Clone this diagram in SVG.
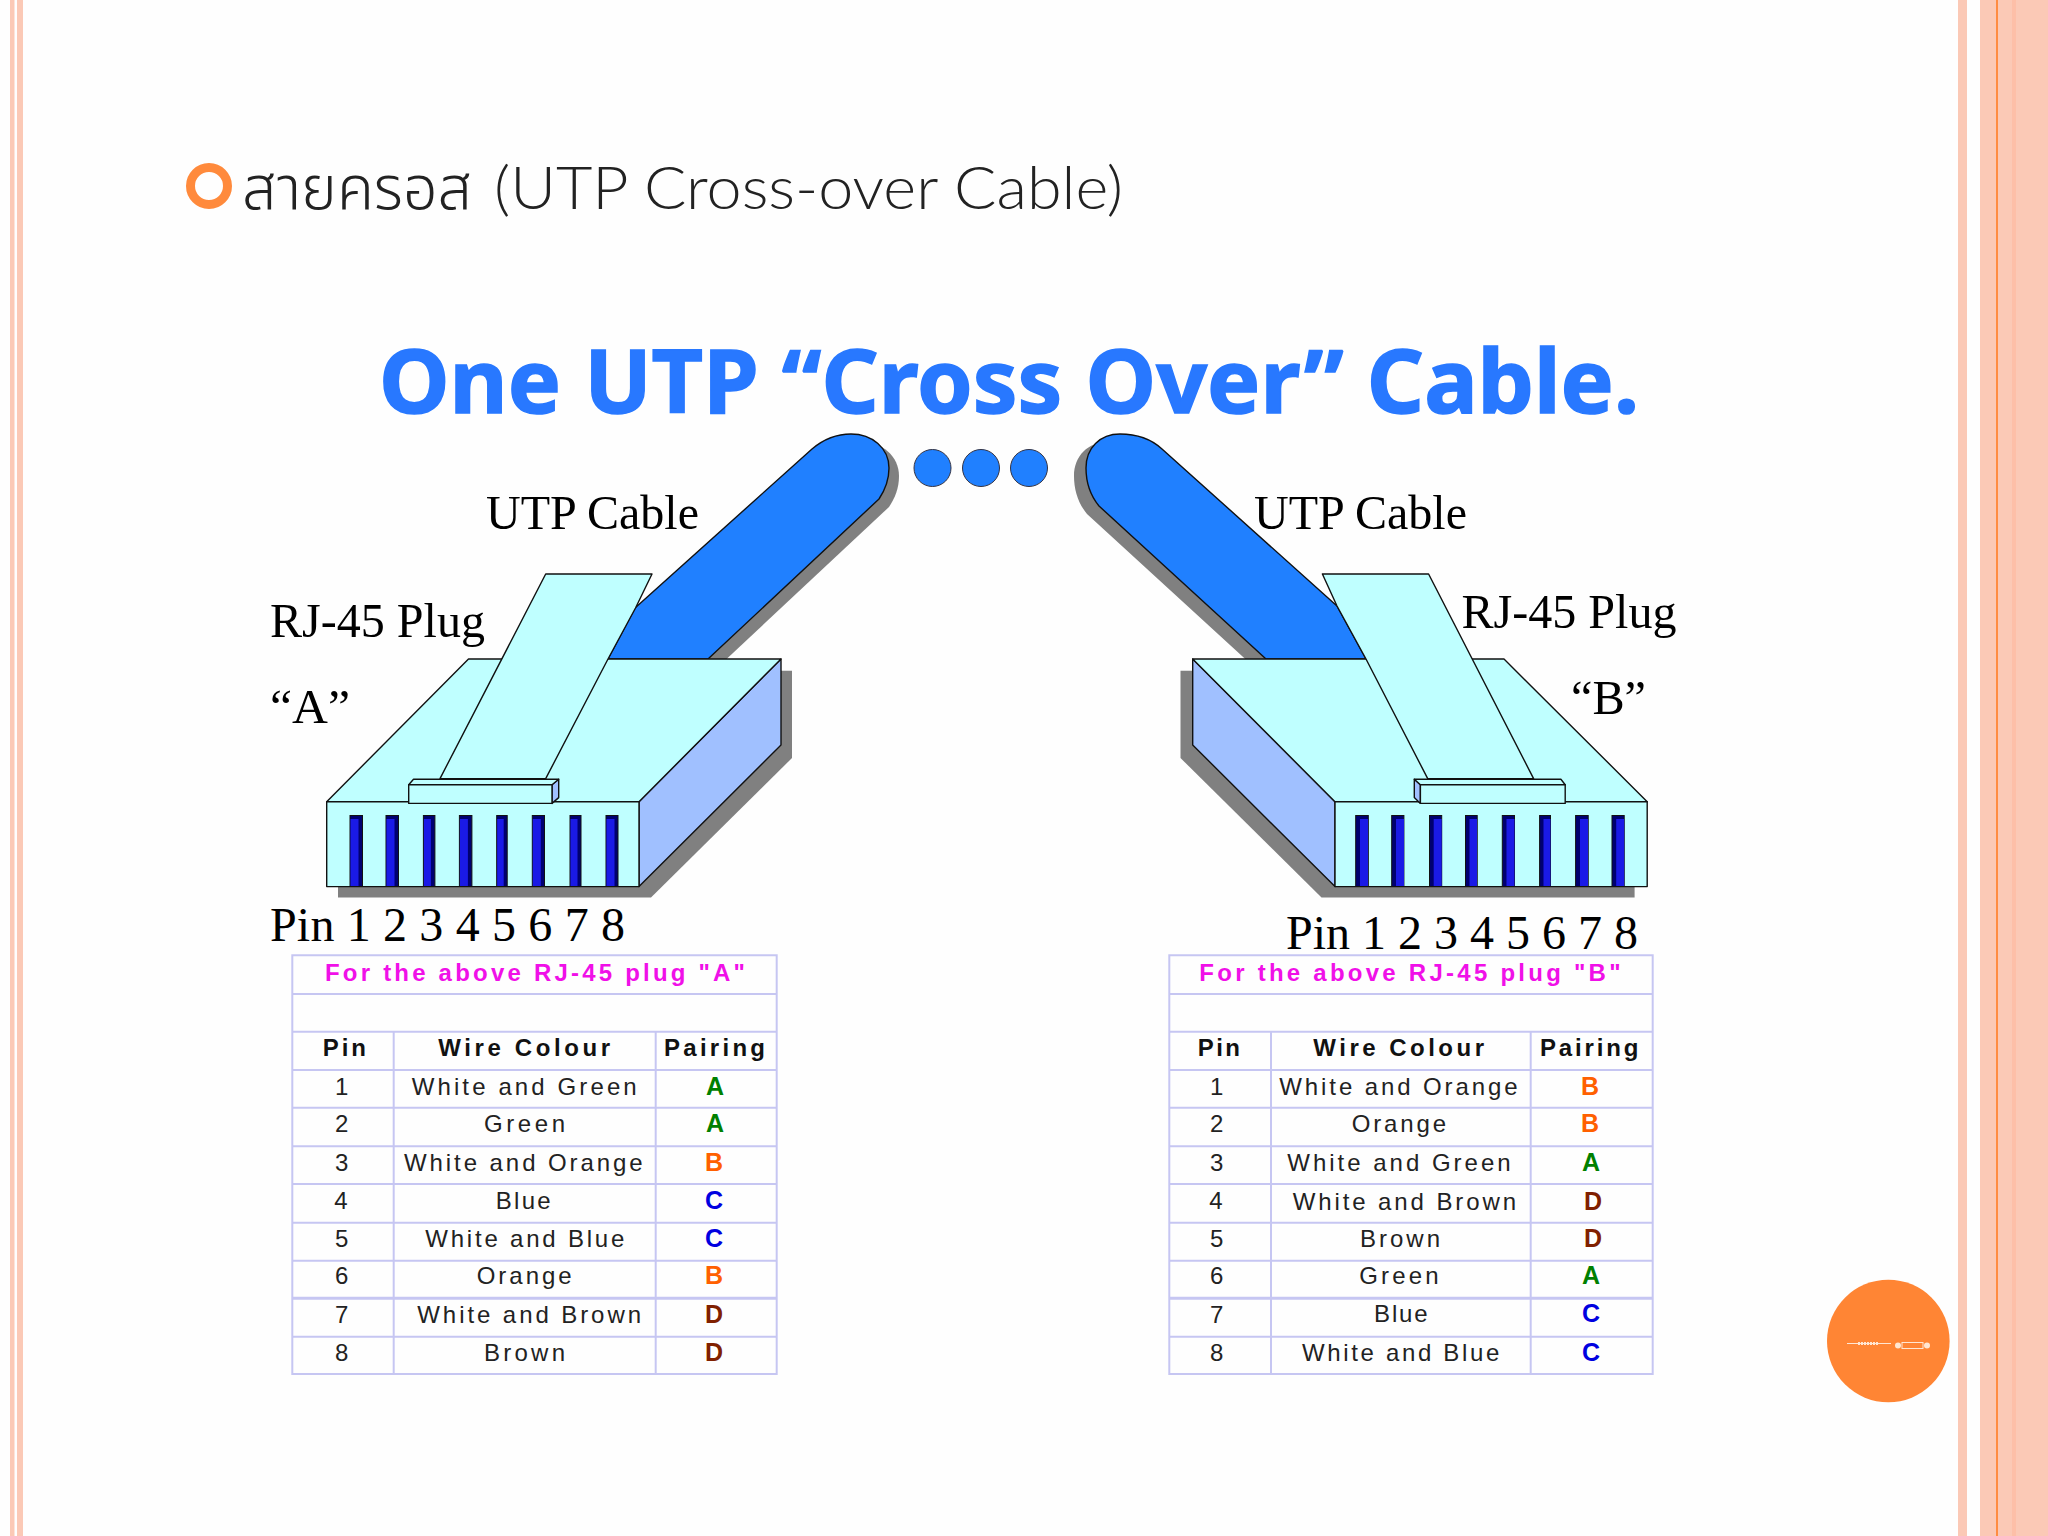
<svg xmlns="http://www.w3.org/2000/svg" width="2048" height="1536" viewBox="0 0 2048 1536">
<style>
.l{stroke:#111;stroke-width:1.4;stroke-linejoin:round}
.face{fill:#bfffff}.side{fill:#a0c0ff}.cable{fill:#2080ff}.shadow{fill:#808080}
.pd{fill:#000070;stroke:#111;stroke-width:1}.pf{fill:#1a1ae6}
.ser{font-family:"Liberation Serif","Times New Roman",serif;font-size:48px;fill:#000}
.grid{stroke:#c6c6f2;stroke-width:2;fill:none}
.t{font-family:"Liberation Sans",Arial,sans-serif;font-size:24px;fill:#222}
.d{text-anchor:middle}
.h{font-family:"Liberation Sans",Arial,sans-serif;font-size:24px;font-weight:bold;fill:#111}
.m{font-family:"Liberation Sans",Arial,sans-serif;font-size:24px;font-weight:bold;fill:#f010e8}
.p{font-family:"Liberation Sans",Arial,sans-serif;font-size:25px;font-weight:bold;text-anchor:middle}
.A{fill:#008000}.B{fill:#ff6000}.C{fill:#0000e0}.D{fill:#802000}
.bar{fill:#fbc9b6}
</style>
<rect width="2048" height="1536" fill="#fefefe"/>
<g id="frame">
<rect class="bar" x="10" y="0" width="4.5" height="1536"/>
<rect class="bar" x="17" y="0" width="6" height="1536"/>
<rect class="bar" x="1958" y="0" width="9" height="1536"/>
<rect class="bar" x="1980" y="0" width="68" height="1536"/>
<rect x="1996" y="0" width="2" height="1536" fill="#ff8c42"/>
<rect x="2012" y="0" width="4" height="1536" fill="#fdbfa8"/>
</g>
<g id="heading">
<circle cx="209" cy="186" r="18.5" fill="none" stroke="#ff8a3c" stroke-width="9"/>
<text x="242" y="209" font-family="'Noto Sans Thai','Noto Sans','DejaVu Sans',sans-serif" font-size="60" font-weight="300" fill="#222" textLength="230" lengthAdjust="spacingAndGlyphs">สายครอส</text>
<text x="494" y="209" font-family="Lato,'Open Sans',sans-serif" font-size="60" font-weight="300" fill="#222" textLength="629" lengthAdjust="spacingAndGlyphs">(UTP Cross-over Cable)</text>
</g>
<text id="title" x="379" y="413" font-family="'Noto Sans','Open Sans',sans-serif" font-size="88" font-weight="700" fill="#2878ff" stroke="#2878ff" stroke-width="1.5" textLength="1260" lengthAdjust="spacingAndGlyphs">One UTP “Cross Over” Cable.</text>
<g id="dots" fill="#2080ff" stroke="#334" stroke-width="1">
<circle cx="932.5" cy="468" r="18.5"/><circle cx="981" cy="468" r="18.5"/><circle cx="1029" cy="468" r="18.5"/>
</g>
<g id="plug-a">
<path class="shadow" transform="translate(10,8)" d="M608,659L635,608L812,449C825,438 838,434 851,434C872,434 889,448 889,468C889,480 885,490 879,499L708,659Z"/>
<path class="shadow" d="M338,880V897.6H651L792,758V670.7H770Z"/>
<path class="cable l" d="M608,659L635,608L812,449C825,438 838,434 851,434C872,434 889,448 889,468C889,480 885,490 879,499L708,659Z"/>
<path class="side l" d="M639,801.7L781,659V745L639,886.6Z"/>
<path class="face l" d="M326.7,801.7L468.5,659H781L639,801.7Z"/>
<rect class="face l" x="326.7" y="801.7" width="312.3" height="84.9"/>
<path class="face l" d="M545.7,574H652L635.5,608L608,659L545.7,778.6H440Z"/>
<path class="side l" d="M552,784.8L558.7,779.3V797.6L552,803.4Z"/>
<path class="face l" d="M408.7,784.8L413.5,779.3H558.7L552,784.8Z"/>
<rect class="face l" x="408.7" y="784.8" width="143.3" height="18.6"/>
<g id="pins-a">
<rect class="pd" x="350" y="815.5" width="12.5" height="71"/><rect class="pf" x="350.5" y="819" width="8" height="67"/>
<rect class="pd" x="386" y="815.5" width="12.5" height="71"/><rect class="pf" x="386.5" y="819" width="8" height="67"/>
<rect class="pd" x="423.4" y="815.5" width="11.5" height="71"/><rect class="pf" x="423.9" y="819" width="7" height="67"/>
<rect class="pd" x="459.4" y="815.5" width="12.5" height="71"/><rect class="pf" x="459.9" y="819" width="8" height="67"/>
<rect class="pd" x="496.7" y="815.5" width="10.5" height="71"/><rect class="pf" x="497.2" y="819" width="6.5" height="67"/>
<rect class="pd" x="532.3" y="815.5" width="12.2" height="71"/><rect class="pf" x="532.8" y="819" width="8" height="67"/>
<rect class="pd" x="570" y="815.5" width="11" height="71"/><rect class="pf" x="570.5" y="819" width="7" height="67"/>
<rect class="pd" x="606" y="815.5" width="12" height="71"/><rect class="pf" x="606.5" y="819" width="8" height="67"/>
</g>
</g>
<g id="plug-b">
<path class="shadow" transform="translate(-12,8)" d="M1366,659L1337,606L1162,449C1150,438 1135,434 1120,434C1100,434 1086,448 1086,468C1086,482 1090,495 1099,506L1266,659Z"/>
<path class="shadow" d="M1200,670.7H1180.5V758L1321.5,897.6H1634.6V880Z"/>
<path class="cable l" d="M1366,659L1337,606L1162,449C1150,438 1135,434 1120,434C1100,434 1086,448 1086,468C1086,482 1090,495 1099,506L1266,659Z"/>
<path class="side l" d="M1335,801.7L1192.7,659V745L1335,886.6Z"/>
<path class="face l" d="M1192.7,659H1504L1647.2,801.7H1335Z"/>
<rect class="face l" x="1335" y="801.7" width="312.2" height="84.9"/>
<path class="face l" d="M1322.4,574H1428.6L1533.6,778.6H1427.7L1366,659L1337,606Z"/>
<path class="side l" d="M1414.3,779.3L1420.4,784.8V803.4L1414.3,797.6Z"/>
<path class="face l" d="M1414.3,779.3H1560.9L1565.2,784.8H1420.4Z"/>
<rect class="face l" x="1420.4" y="784.8" width="144.8" height="18.6"/>
<g id="pins-b">
<rect class="pd" x="1355.7" y="815.5" width="12.6" height="71"/><rect class="pf" x="1360" y="819" width="8" height="67"/>
<rect class="pd" x="1391.7" y="815.5" width="12.2" height="71"/><rect class="pf" x="1396" y="819" width="8" height="67"/>
<rect class="pd" x="1429.5" y="815.5" width="12.2" height="71"/><rect class="pf" x="1433.7" y="819" width="8" height="67"/>
<rect class="pd" x="1465.5" y="815.5" width="11.7" height="71"/><rect class="pf" x="1469.5" y="819" width="7.5" height="67"/>
<rect class="pd" x="1502.3" y="815.5" width="12.2" height="71"/><rect class="pf" x="1506.5" y="819" width="8" height="67"/>
<rect class="pd" x="1539.6" y="815.5" width="10.9" height="71"/><rect class="pf" x="1543.5" y="819" width="7" height="67"/>
<rect class="pd" x="1575.6" y="815.5" width="12.6" height="71"/><rect class="pf" x="1580" y="819" width="8" height="67"/>
<rect class="pd" x="1612" y="815.5" width="12.2" height="71"/><rect class="pf" x="1616.2" y="819" width="8" height="67"/>
</g>
</g>
<g id="labels">
<text class="ser" x="486" y="529" textLength="213" lengthAdjust="spacingAndGlyphs">UTP Cable</text>
<text class="ser" x="270" y="637" textLength="215" lengthAdjust="spacingAndGlyphs">RJ-45 Plug</text>
<text class="ser" x="270" y="723" textLength="80" lengthAdjust="spacingAndGlyphs">“A”</text>
<text class="ser" x="270" y="941" textLength="355" lengthAdjust="spacing">Pin 1 2 3 4 5 6 7 8</text>
<text class="ser" x="1254" y="529" textLength="213" lengthAdjust="spacingAndGlyphs">UTP Cable</text>
<text class="ser" x="1461.5" y="628" textLength="215" lengthAdjust="spacingAndGlyphs">RJ-45 Plug</text>
<text class="ser" x="1571" y="714" textLength="75" lengthAdjust="spacingAndGlyphs">“B”</text>
<text class="ser" x="1286" y="949" textLength="352" lengthAdjust="spacing">Pin 1 2 3 4 5 6 7 8</text>
</g>
<g id="table-a">
<path class="grid" d="M292.3,955.3H776.7V1374H292.3ZM292.3,994H776.7M292.3,1031.7H776.7M292.3,1070H776.7M292.3,1107.7H776.7M292.3,1146.3H776.7M292.3,1184H776.7M292.3,1222.7H776.7M292.3,1260.7H776.7M292.3,1336.7H776.7M393.7,1031.7V1374M655.7,1031.7V1374"/>
<path class="grid" style="stroke-width:3" d="M292.3,1298.3H776.7"/>
<text class="m" x="325" y="981" textLength="420">For the above RJ-45 plug "A"</text>
<text class="h" x="322.7" y="1056" textLength="43.3">Pin</text>
<text class="h" x="438.3" y="1056" textLength="171.7">Wire Colour</text>
<text class="h" x="664" y="1056" textLength="101">Pairing</text>
<text class="t d" x="341.7" y="1095">1</text><text class="t" x="411.7" y="1095" textLength="225">White and Green</text><text class="p A" x="715" y="1095">A</text>
<text class="t d" x="341.7" y="1132.3">2</text><text class="t" x="484" y="1132.3" textLength="81">Green</text><text class="p A" x="715" y="1132.3">A</text>
<text class="t d" x="341.7" y="1171">3</text><text class="t" x="404" y="1171" textLength="238.7">White and Orange</text><text class="p B" x="714" y="1171">B</text>
<text class="t d" x="341" y="1208.7">4</text><text class="t" x="495.7" y="1208.7" textLength="55">Blue</text><text class="p C" x="714" y="1208.7">C</text>
<text class="t d" x="341.7" y="1247">5</text><text class="t" x="425.3" y="1247" textLength="199">White and Blue</text><text class="p C" x="714" y="1247">C</text>
<text class="t d" x="341.7" y="1284.3">6</text><text class="t" x="476.7" y="1284.3" textLength="95">Orange</text><text class="p B" x="714" y="1284.3">B</text>
<text class="t d" x="341.7" y="1323.3">7</text><text class="t" x="417.3" y="1323.3" textLength="223.7">White and Brown</text><text class="p D" x="714" y="1323.3">D</text>
<text class="t d" x="341.7" y="1360.7">8</text><text class="t" x="484" y="1360.7" textLength="81">Brown</text><text class="p D" x="714" y="1360.7">D</text>
</g>
<g id="table-b">
<path class="grid" d="M1169.3,955.3H1652.7V1374H1169.3ZM1169.3,994H1652.7M1169.3,1031.7H1652.7M1169.3,1070H1652.7M1169.3,1107.7H1652.7M1169.3,1146.3H1652.7M1169.3,1184H1652.7M1169.3,1222.7H1652.7M1169.3,1260.7H1652.7M1169.3,1336.7H1652.7M1271,1031.7V1374M1530.7,1031.7V1374"/>
<path class="grid" style="stroke-width:3" d="M1169.3,1298.3H1652.7"/>
<text class="m" x="1199.3" y="981" textLength="421.3">For the above RJ-45 plug "B"</text>
<text class="h" x="1197.7" y="1056" textLength="42.3">Pin</text>
<text class="h" x="1313.3" y="1056" textLength="170.7">Wire Colour</text>
<text class="h" x="1540" y="1056" textLength="98.3">Pairing</text>
<text class="t d" x="1216.7" y="1095">1</text><text class="t" x="1279.3" y="1095" textLength="238.3">White and Orange</text><text class="p B" x="1590" y="1095">B</text>
<text class="t d" x="1216.7" y="1132.3">2</text><text class="t" x="1351.7" y="1132.3" textLength="94.3">Orange</text><text class="p B" x="1590" y="1132.3">B</text>
<text class="t d" x="1216.7" y="1171">3</text><text class="t" x="1287.3" y="1171" textLength="223.3">White and Green</text><text class="p A" x="1591" y="1171">A</text>
<text class="t d" x="1216" y="1208.7">4</text><text class="t" x="1292.7" y="1210" textLength="223.3">White and Brown</text><text class="p D" x="1593" y="1210">D</text>
<text class="t d" x="1216.7" y="1247">5</text><text class="t" x="1360" y="1247" textLength="80">Brown</text><text class="p D" x="1593" y="1247">D</text>
<text class="t d" x="1216.7" y="1284.3">6</text><text class="t" x="1359.3" y="1284.3" textLength="79.3">Green</text><text class="p A" x="1591" y="1284.3">A</text>
<text class="t d" x="1216.7" y="1323.3">7</text><text class="t" x="1374" y="1321.7" textLength="53.7">Blue</text><text class="p C" x="1591" y="1321.7">C</text>
<text class="t d" x="1216.7" y="1360.7">8</text><text class="t" x="1302" y="1360.7" textLength="197.3">White and Blue</text><text class="p C" x="1591" y="1360.7">C</text>
</g>
<g id="badge">
<circle cx="1888.3" cy="1341" r="61.3" fill="#ff8534"/>
<path d="M1847,1343.5H1891" stroke="#ffe6d2" stroke-width="1.2" fill="none"/>
<path d="M1858,1343.5H1878" stroke="#ffe6d2" stroke-width="3" stroke-dasharray="2 1" fill="none"/>
<rect x="1902" y="1342.5" width="21" height="6" fill="none" stroke="#ffe6d2" stroke-width="1"/>
<circle cx="1898" cy="1345.5" r="3" fill="#ffe6d2"/><circle cx="1927" cy="1345.5" r="3" fill="#ffe6d2"/>
</g>
</svg>
